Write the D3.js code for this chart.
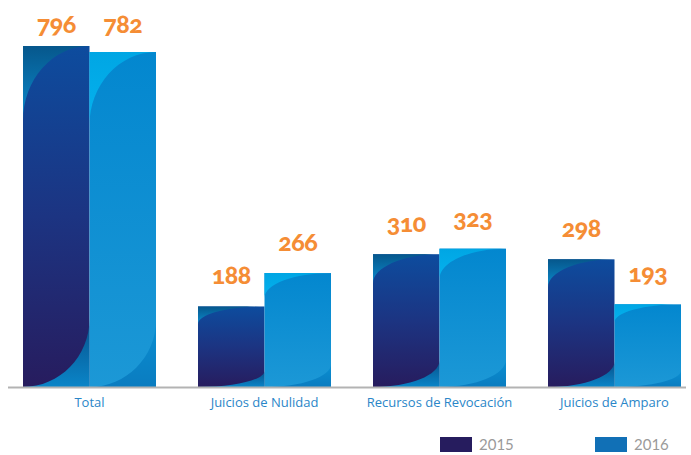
<!DOCTYPE html>
<html><head><meta charset="utf-8">
<script src="https://cdn.jsdelivr.net/npm/d3@7"></script>
<style>html,body{margin:0;padding:0;background:#fff;overflow:hidden}</style>
</head><body><svg id="c" width="691" height="455"></svg>
<script>
const categories = ["Total", "Juicios de Nulidad", "Recursos de Revocación", "Juicios de Amparo"];
const series = ["2015", "2016"];
const values2015 = [796, 188, 310, 298];
const values2016 = [782, 266, 323, 193];

const W = 691, H = 455, baseY = 387, topY = 46;
const svg = d3.select("#c");
const defs = svg.append("defs");

function grad(id, stops){
  const g = defs.append("linearGradient").attr("id", id).attr("x1",0).attr("y1",0).attr("x2",0).attr("y2",1);
  stops.forEach(s => g.append("stop").attr("offset", s[0]).attr("stop-color", s[1]));
}
grad("body15", [[0,"#0d4c9e"],[0.5,"#1c3482"],[1,"#271c5e"]]);
grad("tl15", [[0,"#06578c"],[1,"#0b8bcd"]]);
grad("br15", [[0,"#07508a"],[1,"#0a85c8"]]);
grad("body16", [[0,"#0387cf"],[1,"#1c98d6"]]);
grad("tl16", [[0,"#00a6e4"],[1,"#05b2ee"]]);
grad("br16", [[0,"#0a8fd2"],[1,"#0a7cc0"]]);

const x0 = d3.scaleBand().domain(categories).range([23, 681]).paddingInner(0.24).paddingOuter(0);
const x1 = d3.scaleBand().domain(series).range([0, x0.bandwidth()]).padding(0);
const y = d3.scaleLinear().domain([0, 796]).range([baseY, topY]);

const data = categories.map((c, i) => ({cat: c, vals: [
  {s: "2015", v: values2015[i]}, {s: "2016", v: values2016[i]}]}));

const groups = svg.selectAll("g.grp").data(data).join("g").attr("class","grp")
  .attr("transform", d => `translate(${x0(d.cat)},0)`);

const bars = groups.selectAll("g.bar").data(d => d.vals).join("g").attr("class","bar");
bars.each(function(d){
  const g = d3.select(this);
  const k = d.s === "2015" ? "15" : "16";
  const L = x1(d.s), R = L + x1.bandwidth(), T = y(d.v), B = y(0), hgt = B - T, w = R - L;
  g.append("rect").attr("x", L).attr("y", T).attr("width", w).attr("height", hgt).attr("fill", `url(#body${k})`);
  const h1 = 0.22 * hgt, h2 = 0.2 * hgt, c = 0.5523;
  g.append("path").attr("fill", `url(#tl${k})`)
    .attr("d", `M${L},${T} L${R},${T} C${R - w*c},${T} ${L},${T + h1*(1-c)} ${L},${T + h1} Z`);
  g.append("path").attr("fill", `url(#br${k})`)
    .attr("d", `M${L},${B} C${L + w*c},${B} ${R},${B - h2*(1-c)} ${R},${B - h2} L${R},${B} Z`);
  g.append("text").attr("x", (L+R)/2).attr("y", Math.max(T - 22, 33))
    .attr("text-anchor","middle")
    .style("font-family","Lato, 'Open Sans', sans-serif").style("font-weight","900")
    .style("font-size","25px").style("font-feature-settings","'onum' 1")
    .style("letter-spacing","-0.5px")
    .attr("fill","#f58d35").text(d.v);
});

svg.append("line").attr("x1", 8).attr("x2", 686).attr("y1", baseY+0.5).attr("y2", baseY+0.5)
  .attr("stroke","#b3b3b3").attr("stroke-width",2);

const ax = svg.append("g").attr("transform", `translate(0,${baseY})`)
  .call(d3.axisBottom(x0).tickSize(0).tickPadding(9));
ax.select(".domain").remove();
ax.selectAll("text").style("font-family","'Open Sans', sans-serif").style("font-size","13px")
  .attr("fill","#2a86c8").attr("dy","0.85em");

const legColors = ["#261c5e", "#1170b6"];
const legX = [440, 595];
const leg = svg.selectAll("g.leg").data(series).join("g").attr("class","leg")
  .attr("transform", (d,i) => `translate(${legX[i]},437)`);
leg.append("rect").attr("width", 32).attr("height", 15).attr("fill", (d,i) => legColors[i]);
leg.append("text").attr("x", 39).attr("y", 13).text(d => d)
  .style("font-family","Lato, sans-serif").style("font-size","15px")
  .attr("fill","#9a9a9a");
</script></body></html>
